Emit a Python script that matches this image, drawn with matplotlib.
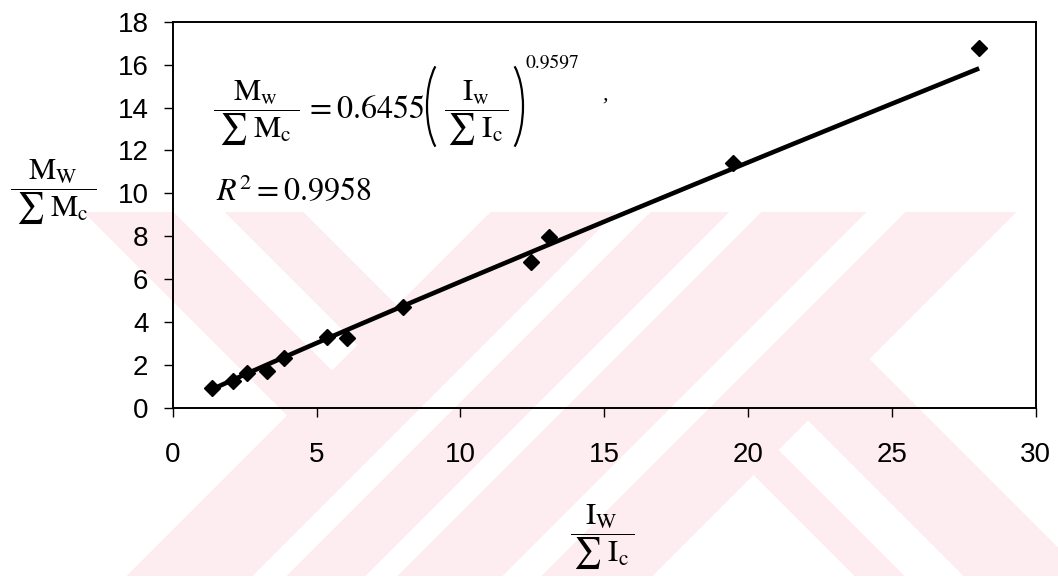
import numpy as np
import matplotlib
matplotlib.use("Agg")
import matplotlib.pyplot as plt
from matplotlib.patches import Arc
from matplotlib.transforms import IdentityTransform

# measured ratios (I_w / sum I_c, M_w / sum M_c)
ratio_I = [1.36, 2.09, 2.59, 3.27, 3.87, 5.35, 6.05, 8.02, 12.46, 13.09, 19.49, 28.04]
ratio_M = [0.92, 1.26, 1.62, 1.74, 2.32, 3.32, 3.25, 4.72, 6.79, 7.95, 11.40, 16.76]

# power-law trendline  y = a * x^b
fit_a = 0.6455
fit_b = 0.9597
fit_r2 = 0.9958

x_ticks = [0, 5, 10, 15, 20, 25, 30]
y_ticks = [0, 2, 4, 6, 8, 10, 12, 14, 16, 18]

W, H = 1058, 581
plt.rcParams["mathtext.fontset"] = "stix"
plt.rcParams["font.family"] = ["Liberation Sans", "DejaVu Sans"]


def px(x, y):
    # pixel position (from top-left) -> figure fraction
    return x / W, 1 - y / H


def watermark(color=(253, 236, 240)):
    yy, xx = np.mgrid[0:H, 0:W]
    u = xx + yy
    v = xx - yy
    top = 212
    band = np.zeros((H, W), dtype=bool)
    # "/" stripes, given by their x range on the top edge
    for lo, hi in [(490, 615), (650, 728), (761, 865), (905, 1015)]:
        band |= (u >= lo + top) & (u <= hi + top)
    # "\" arms: (x range on top edge, u limits)
    for lo, hi, umin, umax in [(84, 173, 0, 702), (225, 303, 0, 702),
                               (600, 722, 1117, 9999), (491, 540, 1227, 9999)]:
        band |= (v >= lo - top) & (v <= hi - top) & (u >= umin) & (u <= umax)
    band &= (yy >= top) & (yy <= 575)
    img = np.full((H, W, 3), 255, dtype=np.uint8)
    img[band] = color
    return img


fig = plt.figure(figsize=(W / 100, H / 100), dpi=100)
fig.figimage(watermark(), xo=0, yo=0, origin="upper", zorder=0)

left, right, top, bottom = 172.7, 1035.5, 21.7, 408.0
ax = fig.add_axes([left / W, 1 - bottom / H, (right - left) / W, (bottom - top) / H])
ax.set_zorder(1)
ax.patch.set_alpha(0)

xs = np.linspace(min(ratio_I), max(ratio_I), 200)
ax.plot(xs, fit_a * xs ** fit_b, color="black", lw=3.3, solid_capstyle="butt", zorder=2)
ax.plot(ratio_I, ratio_M, ls="none", marker="D", ms=7.8, color="black", zorder=3)

ax.set_xlim(0, 30)
ax.set_ylim(0, 18)
ax.set_xticks(x_ticks)
ax.set_yticks(y_ticks)
for s in ax.spines.values():
    s.set_linewidth(1.4)
ax.tick_params(axis="both", direction="out", length=6.5, width=1, colors="black")
ax.tick_params(axis="x", labelsize=20, pad=18)
ax.tick_params(axis="y", labelsize=20, pad=11)

# fitted equation, built from pieces so the fractions keep full size
frac_m = r"$\dfrac{\mathrm{M_w}}{\;\sum\;\mathrm{M_c}\;}$"
frac_i = r"$\dfrac{\mathrm{I_w}}{\,\sum\;\mathrm{I_c}\,}$"
fig.text(*px(213, 113), frac_m, fontsize=22, ha="left", va="center")
fig.text(*px(305, 118), r"$= 0.6455$", fontsize=23, ha="left", va="baseline")
fig.text(*px(476, 113), frac_i, fontsize=22, ha="center", va="center")
fig.text(*px(526, 63), "0.9597", fontsize=14, family="STIXGeneral",
         ha="left", va="center")

# tall round brackets around the inner fraction
pix = IdentityTransform()
for cx, t1, t2 in [(450, 110, 250), (500, -70, 70)]:
    fig.add_artist(Arc((cx, H - 106.5), 46, 104, theta1=t1, theta2=t2,
                       transform=pix, color="black", lw=1.6))

fig.text(*px(216, 192), r"$R^2 = 0.9958$", fontsize=23, ha="left", va="center")
fig.text(*px(605, 95), ",", fontsize=16, family="Liberation Serif",
         style="italic", ha="center", va="center")

# axis labels
fig.text(*px(53, 192), r"$\dfrac{\mathrm{M_W}}{\;\sum\;\mathrm{M_c}\;}$", fontsize=22,
         ha="center", va="center")
fig.text(*px(602, 537), r"$\dfrac{\mathrm{I_W}}{\,\sum\;\mathrm{I_c}\,}$", fontsize=22,
         ha="center", va="center")

fig.savefig("out.png", dpi=100)
